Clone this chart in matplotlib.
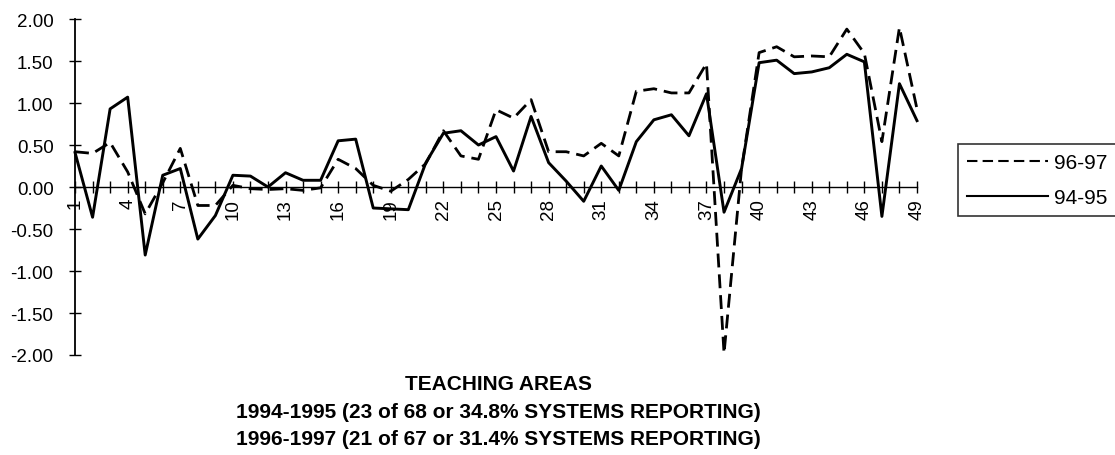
import matplotlib
matplotlib.use("Agg")
import matplotlib.pyplot as plt
import numpy as np

plt.rcParams['font.family'] = ['Liberation Sans', 'DejaVu Sans']
plt.rcParams['axes.unicode_minus'] = False

areas = list(range(1, 50))
tick_labels = [str(i) for i in range(1, 50, 3)]

s9495 = [0.41, -0.36, 0.93, 1.07, -0.81, 0.14, 0.22, -0.62, -0.34, 0.14,
         0.13, 0.00, 0.17, 0.08, 0.08, 0.55, 0.57, -0.25, -0.26, -0.27,
         0.29, 0.64, 0.67, 0.50, 0.60, 0.19, 0.84, 0.29, 0.07, -0.17,
         0.25, -0.04, 0.54, 0.80, 0.86, 0.61, 1.11, -0.30, 0.22, 1.48,
         1.51, 1.35, 1.37, 1.42, 1.58, 1.49, -0.35, 1.23, 0.79]

s9697 = [0.42, 0.40, 0.53, 0.18, -0.32, 0.05, 0.46, -0.22, -0.22, 0.02,
         -0.02, -0.03, -0.02, -0.04, -0.01, 0.33, 0.22, 0.02, -0.05, 0.09,
         0.28, 0.67, 0.37, 0.33, 0.92, 0.82, 1.04, 0.42, 0.42, 0.37,
         0.52, 0.37, 1.14, 1.17, 1.12, 1.12, 1.47, -1.98, 0.22, 1.60,
         1.67, 1.55, 1.56, 1.55, 1.88, 1.59, 0.54, 1.90, 0.93]

title_lines = ["TEACHING AREAS",
               "1994-1995 (23 of 68 or 34.8% SYSTEMS REPORTING)",
               "1996-1997 (21 of 67 or 31.4% SYSTEMS REPORTING)"]

fig = plt.figure(figsize=(11.15, 4.56), dpi=100)
ax = fig.add_axes([0.0673, 0.2193, 0.8224 - 0.0673, 0.9561 - 0.2193])

l1, = ax.plot(areas, s9697, color='black', lw=2.0, dashes=(5.0, 2.5),
              label='96-97', clip_on=False)
l2, = ax.plot(areas, s9495, color='black', lw=2.1, label='94-95',
              clip_on=False)

ax.set_xlim(1, 49)
ax.set_ylim(-2, 2)
yt = np.arange(-2, 2.01, 0.5)
ax.set_yticks(yt)
ax.set_yticklabels([f"{v:.2f}" for v in yt])
ax.set_xticks(areas, minor=True)
ax.set_xticks(range(1, 50, 3))
ax.set_xticklabels(tick_labels)

for s in ['top', 'right']:
    ax.spines[s].set_visible(False)
ax.spines['bottom'].set_position(('data', 0))
ax.spines['bottom'].set_linewidth(1.0)
ax.spines['left'].set_linewidth(1.3)

ax.tick_params(axis='x', which='both', direction='inout', length=8, width=1.0)
ax.tick_params(axis='x', which='major', labelsize=13.5, pad=4,
               labelrotation=90)
ax.tick_params(axis='y', direction='inout', length=9, width=1.0,
               labelsize=13.5, pad=11)
ax.patch.set_visible(False)

leg = fig.legend(handles=[l1, l2], loc='upper left',
                 bbox_to_anchor=(0.859, 0.682), fontsize=15,
                 frameon=True, fancybox=False, edgecolor='black',
                 handlelength=3.9, handletextpad=0.25, labelspacing=0.75,
                 borderpad=0.45, borderaxespad=0)
leg.get_frame().set_linewidth(1.2)
for h in leg.get_lines():
    h.set_linewidth(1.5)

ys = [0.156, 0.096, 0.037]
for t, y in zip(title_lines, ys):
    fig.text(0.447, y, t, ha='center', va='center', fontsize=15,
             fontweight='bold')

fig.savefig('out.png', dpi=100)
